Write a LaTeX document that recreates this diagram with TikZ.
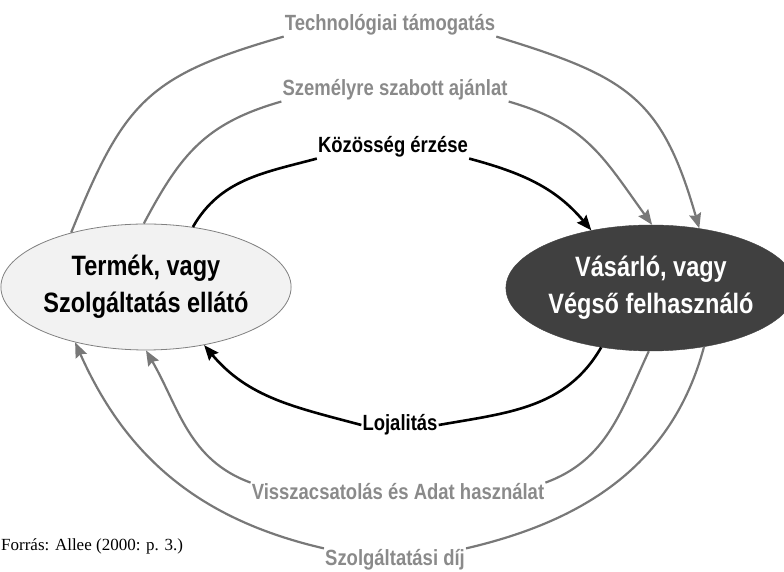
\documentclass[tikz,border=0pt]{standalone}
\usepackage{fontspec}
\setmainfont{Liberation Serif}
\newfontfamily\keskeny[FakeStretch=0.84]{Liberation Sans}
\usetikzlibrary{shapes.geometric,arrows.meta}
\definecolor{vonal}{HTML}{787878}
\definecolor{felirat}{HTML}{8A8A8A}
\definecolor{sotet}{HTML}{404040}
\definecolor{vilagos}{HTML}{F2F2F2}

\begin{document}
\begin{tikzpicture}[x=1pt, y=1pt, >={Stealth[length=15pt,width=12pt,inset=2pt]},
    szereplo/.style={ellipse, minimum width=270pt, minimum height=126pt, inner sep=0pt,
        align=center, font=\keskeny\bfseries\fontsize{28}{37}\selectfont},
    cimke/.style={inner sep=1pt, font=\keskeny\bfseries\fontsize{22}{24}\selectfont},
    szurke/.style={line width=2.2pt, vonal},
    fekete/.style={line width=2.6pt, black}]
    \useasboundingbox (0,0) rectangle (784,572);

    % Szereplok
    \node[szereplo, draw=gray, line width=0.8pt, fill=vilagos] (SZ) at (146,285) {Termék, vagy\\Szolgáltatás ellátó};
    \node[szereplo, draw=sotet, fill=sotet, text=white] (VA) at (651,284) {Vásárló, vagy\\Végső felhasználó};

    % Feliratok
    \node[cimke, text=felirat] (TECH) at (390,547) {Technológiai támogatás};
    \node[cimke, text=felirat] (SZEM) at (395,482) {Személyre szabott ajánlat};
    \node[cimke] (KOZ) at (393,425) {Közösség érzése};
    \node[cimke] (LOJ) at (400,147) {Lojalitás};
    \node[cimke, text=felirat] (VISSZA) at (398,80) {Visszacsatolás és Adat használat};
    \node[cimke, text=felirat] (DIJ) at (395,12) {Szolgáltatási díj};

    % Forras
    \node[anchor=west, inner sep=0pt, font=\fontsize{17}{19}\selectfont] (FORRAS) at (1,26) {Forrás: Allee (2000: p. 3.)};

    % Felso ivek
    \draw[szurke] (SZ.144) to[out=68, in=196, looseness=1.25] (TECH.south west);
    \draw[szurke, ->] (TECH.south east) to[out=-17, in=106, looseness=1.25] (VA.51);
    \draw[szurke] (SZ.92) to[out=62, in=196, looseness=1.1] (SZEM.south west);
    \draw[szurke, ->] (SZEM.south east) to[out=-16, in=126, looseness=1.1] (VA.89);
    \draw[fekete] (SZ.52) to[out=60, in=195] (KOZ.south west);
    \draw[fekete, ->] (KOZ.south east) to[out=-15, in=130] (VA.136);

    % Also ivek
    \draw[fekete] (VA.230) to[out=240, in=10] (LOJ.east);
    \draw[fekete, ->] (LOJ.west) to[out=165, in=-50] (SZ.315);
    \draw[szurke] (VA.268) to[out=245, in=20] (VISSZA.north east);
    \draw[szurke, ->] (VISSZA.north west) to[out=160, in=-60] (SZ.270);
    \draw[szurke] (VA.312) to[out=255, in=13] (DIJ.north east);
    \draw[szurke, ->] (DIJ.north west) to[out=167, in=-66] (SZ.218);
\end{tikzpicture}
\end{document}
